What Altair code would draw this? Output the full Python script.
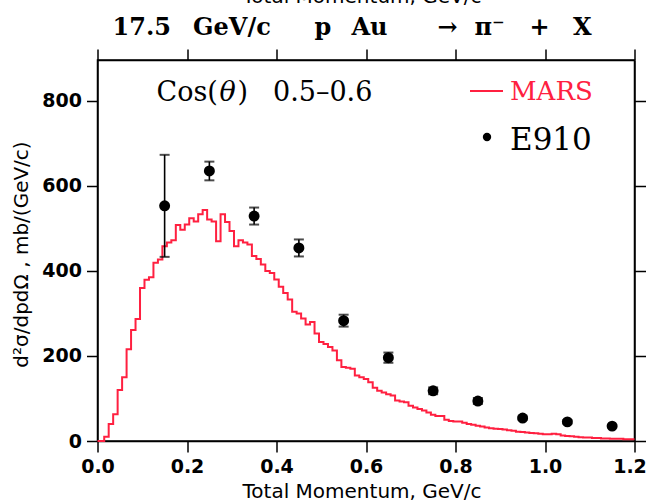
import altair as alt
import pandas as pd

# MARS histogram (bin width 0.01 GeV/c, values at bin centres)
mars_val = [0, 0, 10, 40, 63, 120, 150, 216, 261, 287,
            360, 379, 385, 419, 427, 458, 467, 472, 508, 497,
            509, 524, 516, 533, 543, 521, 516, 470, 533, 515,
            494, 458, 472, 467, 462, 435, 428, 415, 400, 395,
            380, 363, 348, 333, 304, 300, 288, 274, 280, 253,
            233, 228, 221, 213, 190, 174, 172, 170, 154, 150,
            146, 138, 125, 118, 114, 110, 107, 95, 93, 91,
            83, 79, 75, 72, 67, 62, 59, 59, 50, 47,
            46, 46, 43, 40, 38, 36, 34, 32, 30, 29,
            28, 27, 25, 24, 22, 21, 20, 19, 18, 17,
            16, 16, 17, 16, 13, 12, 11, 10, 9, 8,
            8, 7, 7, 6, 6, 5, 5, 5, 4, 4, 4]
mars_p = [round(0.01 * i, 2) for i in range(len(mars_val))]

# E910 data
e910_p = [0.15, 0.25, 0.35, 0.45, 0.55, 0.65, 0.75, 0.85, 0.95, 1.05, 1.15]
e910_val = [553, 635, 529, 454, 283, 196, 118, 94, 54, 45, 35]
e910_err = [120, 22, 20, 20, 14, 12, 8, 7, 4, 4, 3]

x_ticks = [0.0, 0.2, 0.4, 0.6, 0.8, 1.0, 1.2]
y_ticks = [0, 200, 400, 600, 800]

RED = "#ff2040"
SERIF = "DejaVu Serif"
SANS = "DejaVu Sans"

mars = pd.DataFrame({"p": mars_p, "v": mars_val})
e910 = pd.DataFrame({
    "p": e910_p,
    "v": e910_val,
    "lo": [v - e for v, e in zip(e910_val, e910_err)],
    "hi": [v + e for v, e in zip(e910_val, e910_err)],
})

xscale = alt.Scale(domain=[0, 1.2], nice=False, zero=False)
yscale = alt.Scale(domain=[0, 896], nice=False)

x_bottom = alt.X("p:Q", scale=xscale, axis=alt.Axis(
    orient="bottom", values=x_ticks, format=".1f", tickSize=11, labelPadding=5,
    labelFlush=False, labelOverlap=False,
    labelOffset={"condition": {"test": "datum.value > 1.1", "value": -5}, "value": 0},
    labelFont=SANS, labelFontSize=19, labelFontWeight="bold",
    title="Total Momentum, GeV/c", titleFont=SANS, titleFontSize=20,
    titleFontWeight="normal", titleX=264, titleY=56, titleBaseline="alphabetic",
    titleAlign="center", grid=False))
y_left = alt.Y("v:Q", scale=yscale, axis=alt.Axis(
    orient="left", values=y_ticks, tickSize=11, labelPadding=5,
    labelFlush=False, labelOverlap=False,
    labelFont=SANS, labelFontSize=19, labelFontWeight="bold",
    title="d²σ/dpdΩ , mb/(GeV/c)", titleFont=SANS, titleFontSize=20,
    titleFontWeight="normal", titleAngle=270, titleX=-70, titleY=194,
    titleBaseline="alphabetic", titleAlign="center", grid=False))
x_top = alt.X("p:Q", scale=xscale, axis=alt.Axis(
    orient="top", values=x_ticks, tickSize=11, labels=False,
    title="Total Momentum, GeV/c", titleFont=SANS, titleFontSize=20,
    titleFontWeight="normal", titleX=264, titleY=-58, titleBaseline="alphabetic",
    titleAlign="center", grid=False))
y_right = alt.Y("v:Q", scale=yscale, axis=alt.Axis(
    orient="right", values=y_ticks, tickSize=11, labels=False, title="", grid=False))

line = alt.Chart(mars).mark_line(interpolate="step", color=RED, strokeWidth=2).encode(
    x=x_bottom, y=y_left)

bars = alt.Chart(e910).mark_rule(color="black", strokeWidth=1.6).encode(
    x=alt.X("p:Q", scale=xscale, axis=None),
    y=alt.Y("lo:Q", scale=yscale, axis=None),
    y2="hi:Q")
cap_lo = alt.Chart(e910).mark_tick(orient="horizontal", size=10, thickness=2, color="black").encode(
    x=alt.X("p:Q", scale=xscale, axis=None),
    y=alt.Y("lo:Q", scale=yscale, axis=None))
cap_hi = alt.Chart(e910).mark_tick(orient="horizontal", size=10, thickness=2, color="black").encode(
    x=alt.X("p:Q", scale=xscale, axis=None),
    y=alt.Y("hi:Q", scale=yscale, axis=None))
pts = alt.Chart(e910).mark_circle(size=120, color="black", opacity=1).encode(
    x=x_top, y=y_right)

one = pd.DataFrame({"d": [0]})


def label(txt, x, y, size, color="black", weight="normal", font=SERIF, style="normal"):
    return alt.Chart(pd.DataFrame({"t": [txt]})).mark_text(
        align="left", baseline="alphabetic", font=font, fontSize=size,
        fontWeight=weight, fontStyle=style, color=color).encode(
        x=alt.value(x), y=alt.value(y), text="t:N")


title_parts = [("17.5", 15), ("GeV/c", 95.5), ("p", 217), ("Au", 254),
               ("→", 340), ("π⁻", 377), ("+", 432), ("X", 475.5)]
texts = [label(t, x, -25, 24, weight="bold") for t, x in title_parts]
texts += [
    label("Cos(", 59, 41, 27),
    label("θ", 122, 41, 27, style="italic"),
    label(")", 140, 41, 27),
    label("0.5–0.6", 175.5, 41, 27),
    label("MARS", 412.5, 40, 26, color=RED),
    label("E910", 412.5, 90, 31),
]
leg_line = alt.Chart(one).mark_rule(color=RED, strokeWidth=2).encode(
    x=alt.value(372.5), x2=alt.value(405.5), y=alt.value(31))
leg_dot = alt.Chart(one).mark_circle(size=70, color="black", opacity=1).encode(
    x=alt.value(389.5), y=alt.value(77))

chart = alt.layer(line, bars, cap_lo, cap_hi, pts, leg_line, leg_dot, *texts).resolve_axis(
    x="independent", y="independent"
).properties(
    width=537, height=381,
    padding={"left": 97.5, "top": 60, "right": 14.5, "bottom": 60},
    autosize=alt.AutoSizeParams(type="none"),
    background="white",
).configure_view(
    stroke="black", strokeWidth=1.5
).configure_axis(
    domainColor="black", domainWidth=1.5, tickColor="black", tickWidth=1.5,
    labelColor="black", titleColor="black"
)

chart.save("out.html", embed_options={"renderer": "svg", "actions": False})
